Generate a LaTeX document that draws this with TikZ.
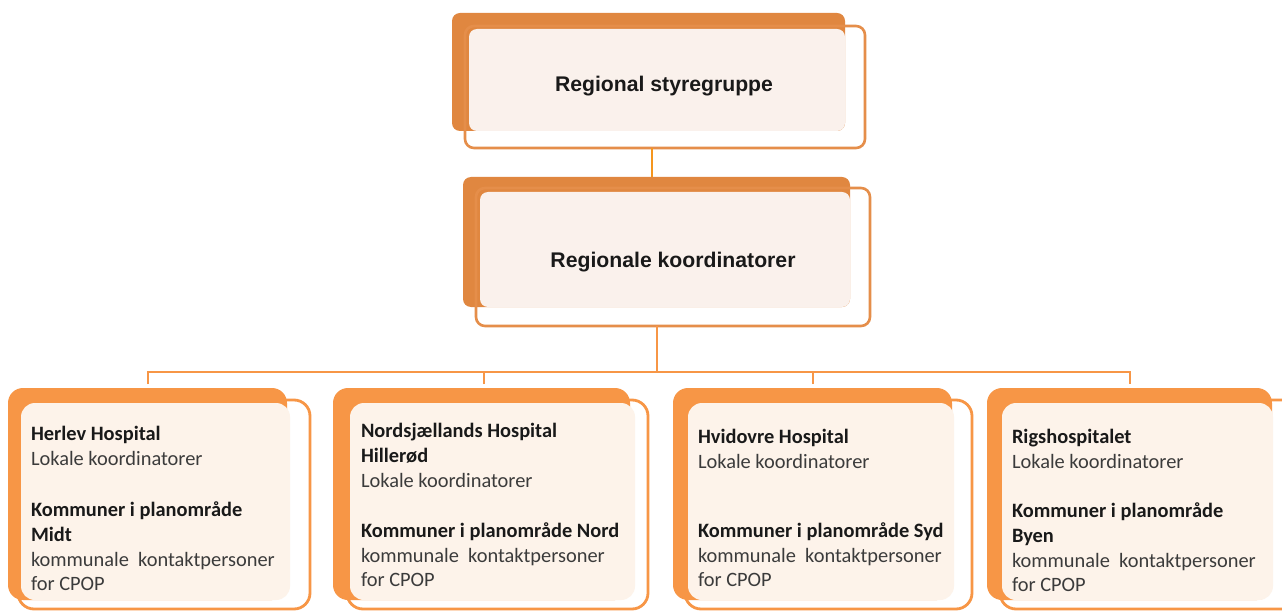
\documentclass[tikz,border=0pt]{standalone}
\usepackage{fontspec}
\setmainfont{Carlito}
\newfontfamily\arialf{Liberation Sans}
\definecolor{topor}{RGB}{224,135,64}
\definecolor{topline}{RGB}{229,142,74}
\definecolor{botor}{RGB}{247,150,70}
\definecolor{connT}{RGB}{245,150,30}
\definecolor{pinkT}{RGB}{250,241,236}
\definecolor{pinkB}{RGB}{253,243,234}
\definecolor{txt}{RGB}{25,25,25}
\tikzset{
  every node/.style={inner sep=0pt, outer sep=0pt},
  backT/.style={fill=topor, rounded corners=8pt, anchor=north west},
  pinkTs/.style={fill=pinkT, rounded corners=8pt, anchor=north west},
  frontT/.style={draw=topline, line width=2.6pt, rounded corners=9pt, anchor=north west},
  backB/.style={fill=botor, rounded corners=15pt, anchor=north west},
  pinkBs/.style={fill=pinkB, rounded corners=14pt, anchor=north west},
  frontB/.style={draw=botor, line width=2.8pt, rounded corners=16pt, anchor=north west},
  titletxt/.style={font=\arialf\bfseries\fontsize{21.2}{25}\selectfont, text=txt, anchor=base},
  bt/.style={font=\bfseries\fontsize{20.4}{25}\selectfont, text=txt, anchor=base west},
  nt/.style={font=\fontsize{20.4}{25}\selectfont, text=txt!85!white, anchor=base west},
  conn/.style={draw=botor, line width=2.8pt},
  connt/.style={draw=connT, line width=2.6pt}
}
\begin{document}
\begin{tikzpicture}[x=1pt,y=-1pt]
\useasboundingbox (0,0) rectangle (1282,612);
\clip (0,0) rectangle (1282,612);
\fill[white] (0,0) rectangle (1282,612);

% top box
\node[backT, minimum width=393pt, minimum height=118pt] (b1back) at (452,13) {};
\node[pinkTs, minimum width=376pt, minimum height=102pt] (b1pink) at (469,29) {};
\node[frontT, minimum width=400pt, minimum height=122pt] (b1) at (465,26) {};
\node[titletxt] (t1) at (664,92) {Regional styregruppe};

% second box
\node[backT, minimum width=387pt, minimum height=130pt] (b2back) at (463,177) {};
\node[pinkTs, minimum width=370pt, minimum height=115pt] (b2pink) at (480,192) {};
\node[frontT, minimum width=394pt, minimum height=138pt] (b2) at (476,188) {};
\node[titletxt] (t2) at (673,268) {Regionale koordinatorer};

% connectors
\coordinate (ctop1) at (652,148);
\coordinate (ctop2) at (652,177);
\draw[connt] (ctop1) -- (ctop2);

\coordinate (cmid) at (657,326);
\coordinate (bus) at (657,372);
\coordinate (k1) at (148,384);
\coordinate (k2) at (484,384);
\coordinate (k3) at (813,384);
\coordinate (k4) at (1130,384);
\draw[conn] (cmid) -- (bus);
\draw[conn] (k1) |- (bus) -| (k4);
\draw[conn] (k2) -- (k2 |- bus);
\draw[conn] (k3) -- (k3 |- bus);

% bottom boxes
\node[backB, minimum width=279pt, minimum height=212pt] (h1back) at (8,388) {};
\node[pinkBs, minimum width=269pt, minimum height=197pt] (h1pink) at (21,403) {};
\node[frontB, minimum width=292pt, minimum height=209pt] (h1) at (18,400) {};

\node[backB, minimum width=297pt, minimum height=212pt] (h2back) at (333,388) {};
\node[pinkBs, minimum width=285pt, minimum height=197pt] (h2pink) at (350,403) {};
\node[frontB, minimum width=301pt, minimum height=209pt] (h2) at (347,400) {};

\node[backB, minimum width=279pt, minimum height=212pt] (h3back) at (673,388) {};
\node[pinkBs, minimum width=266pt, minimum height=197pt] (h3pink) at (688,403) {};
\node[frontB, minimum width=287pt, minimum height=209pt] (h3) at (685,400) {};

\node[backB, minimum width=285pt, minimum height=212pt] (h4back) at (987,388) {};
\node[pinkBs, minimum width=271pt, minimum height=197pt] (h4pink) at (1002,403) {};
\node[frontB, minimum width=300pt, minimum height=209pt] (h4) at (1000,400) {};

% texts box 1
\node[bt] (a1) at (31,440) {Herlev Hospital};
\node[nt] (a2) at (31,465) {Lokale koordinatorer};
\node[bt] (a3) at (31,516) {Kommuner i planområde};
\node[bt] (a4) at (31,541) {Midt};
\node[nt] (a5) at (31,566) {kommunale\ \ kontaktpersoner};
\node[nt] (a6) at (31,590) {for CPOP};

% texts box 2
\node[bt] (n1) at (361,437) {Nordsjællands Hospital};
\node[bt] (n2) at (361,462) {Hillerød};
\node[nt] (n3) at (361,487) {Lokale koordinatorer};
\node[bt] (n4) at (361,537) {Kommuner i planområde Nord};
\node[nt] (n5) at (361,562) {kommunale\ \ kontaktpersoner};
\node[nt] (n6) at (361,586) {for CPOP};

% texts box 3
\node[bt] (s1) at (698,443) {Hvidovre Hospital};
\node[nt] (s2) at (698,468) {Lokale koordinatorer};
\node[bt] (s3) at (698,537) {Kommuner i planområde Syd};
\node[nt] (s4) at (698,562) {kommunale\ \ kontaktpersoner};
\node[nt] (s5) at (698,586) {for CPOP};

% texts box 4
\node[bt] (r1) at (1012,443) {Rigshospitalet};
\node[nt] (r2) at (1012,468) {Lokale koordinatorer};
\node[bt] (r3) at (1012,517) {Kommuner i planområde};
\node[bt] (r4) at (1012,542) {Byen};
\node[nt] (r5) at (1012,567) {kommunale\ \ kontaktpersoner};
\node[nt] (r6) at (1012,591) {for CPOP};
\end{tikzpicture}
\end{document}
